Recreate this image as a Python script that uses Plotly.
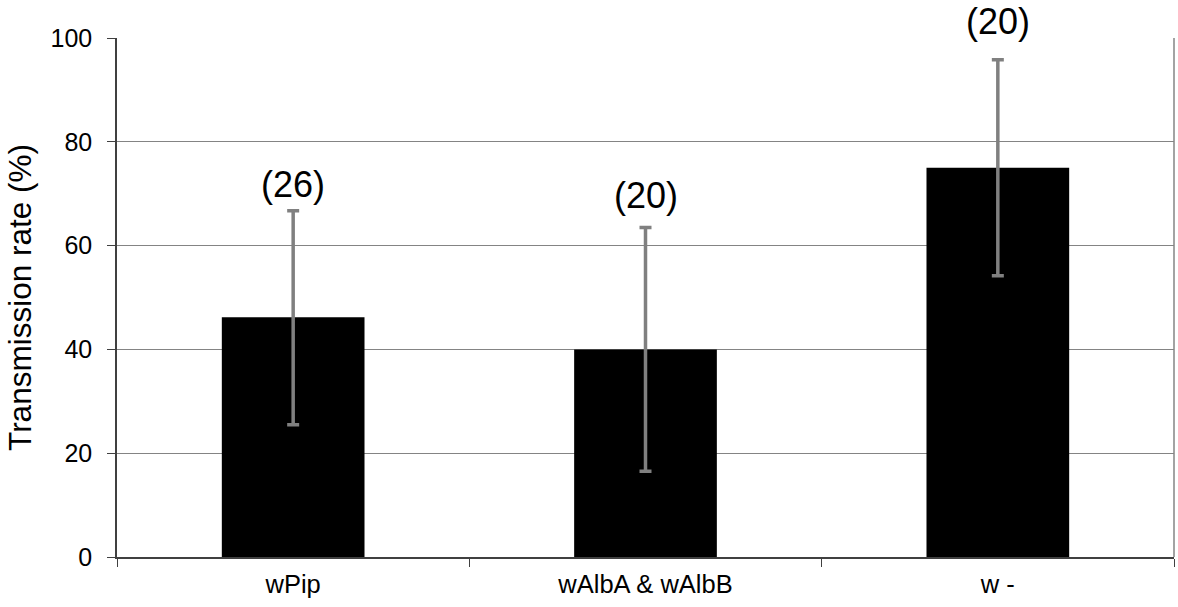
import plotly.graph_objects as go

categories = ["wPip", "wAlbA & wAlbB", "w -"]
rates = [46.2, 40.0, 75.0]
err_plus = [20.5, 23.5, 20.8]
err_minus = [20.7, 23.5, 20.8]
n_labels = ["(26)", "(20)", "(20)"]
label_y = [71.7, 69.6, 103.2]
y_max = 100

font = "Liberation Sans, Arial, sans-serif"

fig = go.Figure()
fig.add_trace(go.Bar(
    x=categories, y=rates,
    marker=dict(color="black", line=dict(width=0)),
    error_y=dict(type="data", symmetric=False, array=err_plus, arrayminus=err_minus,
                 color="#808080", thickness=3.5, width=6),
    width=0.405,
))
for c, t, yy in zip(categories, n_labels, label_y):
    fig.add_annotation(x=c, y=yy / y_max, text=t, showarrow=False, xref="x", yref="paper",
                       yanchor="middle", font=dict(family=font, size=36, color="black"))

fig.update_layout(
    width=1178, height=607,
    margin=dict(l=117, r=4, t=38, b=50),
    paper_bgcolor="white", plot_bgcolor="white",
    showlegend=False,
    font=dict(family=font, color="black"),
    xaxis=dict(showline=True, linecolor="#404040", linewidth=1.5, ticks="outside",
               tickson="boundaries", ticklen=8, tickcolor="#404040",
               tickfont=dict(size=25.5), ticklabelstandoff=4, mirror=False, showgrid=False),
    yaxis=dict(range=[0, y_max], dtick=20, showline=True, linecolor="#404040", linewidth=1.5,
               ticks="outside", ticklen=8, tickcolor="#404040", tickfont=dict(size=25),
               ticklabelstandoff=10,
               showgrid=True, gridcolor="#848484", gridwidth=1.2, zeroline=False,
               title=dict(text="Transmission rate (%)", font=dict(size=31.5), standoff=10)),
)
fig.add_shape(type="line", xref="paper", yref="paper", x0=1, x1=1, y0=0, y1=1,
              line=dict(color="#848484", width=1.5), layer="below")
fig.write_html("out.html", config={"displayModeBar": False},
               post_script="document.body.style.margin='0';document.body.style.overflow='hidden';")
